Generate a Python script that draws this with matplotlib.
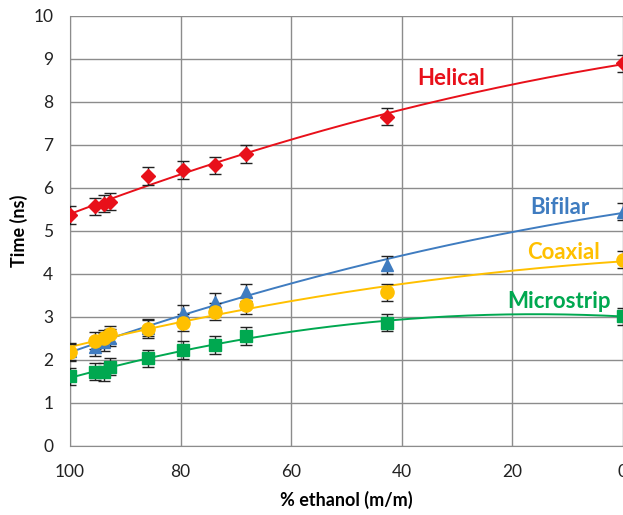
import numpy as np
import matplotlib.pyplot as plt

ethanol = [100, 95.5, 93.8, 92.8, 85.9, 79.5, 73.8, 68.2, 42.7, 0]
helical = [5.37, 5.57, 5.63, 5.68, 6.28, 6.42, 6.53, 6.79, 7.66, 8.9]
bifilar = [2.2, 2.3, 2.42, 2.52, 2.75, 3.09, 3.36, 3.57, 4.21, 5.45]
coaxial = [2.18, 2.45, 2.5, 2.6, 2.72, 2.87, 3.12, 3.27, 3.57, 4.33]
microstrip = [1.62, 1.73, 1.72, 1.84, 2.04, 2.23, 2.35, 2.56, 2.87, 3.02]
err = 0.2

names = ["Helical", "Bifilar", "Coaxial", "Microstrip"]
colors = ["#E8101A", "#3F7CC0", "#FFC000", "#00A850"]
markers = ["D", "^", "o", "s"]
msizes = [7.5, 8.5, 9.5, 9]
label_pos = [(31, 8.55), (11.4, 5.55), (10.8, 4.5), (11.5, 3.36)]

plt.rcParams["font.family"] = ["Lato", "DejaVu Sans"]
fig = plt.figure(figsize=(6.23, 5.15), dpi=100)
ax = fig.add_axes([0.1124, 0.134, 0.8876, 0.835])

xs = np.linspace(0, 100, 200)
for name, y, c, m, ms, (lx, ly) in zip(names, [helical, bifilar, coaxial, microstrip],
                                       colors, markers, msizes, label_pos):
    coef = np.polyfit(ethanol, y, 2)
    ax.plot(xs, np.polyval(coef, xs), color=c, lw=1.4, zorder=2)
    ax.errorbar(ethanol, y, yerr=err, fmt=m, color=c, ms=ms, ecolor="#222222",
                elinewidth=1, capsize=4, capthick=1, zorder=3)
    ax.text(lx, ly, name, color=c, fontsize=16, fontweight="bold", ha="center", va="center")

ax.set_xlim(100, 0)
ax.set_ylim(0, 10)
ax.set_xticks([100, 80, 60, 40, 20, 0])
ax.set_yticks(range(0, 11))
ax.grid(True, color="#8c8c8c", lw=1)
ax.set_axisbelow(True)
for s in ["top", "right"]:
    ax.spines[s].set_visible(False)
for s in ["left", "bottom"]:
    ax.spines[s].set_color("#8c8c8c")
ax.tick_params(length=0, labelsize=12.5, colors="#222222")
ax.tick_params(axis="y", pad=12)
ax.tick_params(axis="x", pad=13)
ax.set_xlabel("% ethanol (m/m)", fontsize=13, fontweight="bold", labelpad=8)
ax.set_ylabel("Time (ns)", fontsize=13, fontweight="bold", labelpad=4)

fig.savefig("out.png")
